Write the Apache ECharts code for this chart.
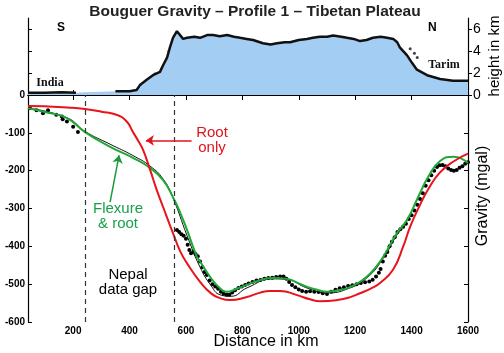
<!DOCTYPE html>
<html>
<head>
<meta charset="utf-8">
<script src="https://cdn.jsdelivr.net/npm/echarts@6/dist/echarts.min.js"></script>
<style>
  html, body { margin: 0; padding: 0; background: #fff; }
  #chart { width: 504px; height: 353px; }
</style>
</head>
<body>
<div id="chart"></div>
<script>
// topography profile (km along profile, height in km)
var topoKm = [40, 100, 160, 210, 240, 300, 350, 400, 425, 437, 462, 483, 508, 519, 533, 544, 554, 568, 590, 604, 630, 650, 675, 696, 720, 746, 770, 792, 815, 838, 873, 900, 923, 950, 969, 1000, 1029, 1050, 1075, 1100, 1122, 1150, 1171, 1195, 1217, 1240, 1263, 1290, 1313, 1335, 1349, 1359, 1384, 1402, 1419, 1455, 1501, 1547, 1600]
var topoH = [0.2, 0.2, 0.25, 0.2, 0.25, 0.3, 0.35, 0.35, 0.45, 0.9, 1.4, 1.8, 2.1, 2.7, 3.4, 4.4, 5.2, 5.8, 5.1, 5.2, 5.3, 5.2, 5.45, 5.45, 5.35, 5.45, 5.3, 5.2, 5.1, 5.0, 4.7, 4.6, 4.7, 4.8, 4.8, 5.0, 5.1, 5.2, 5.3, 5.3, 5.4, 5.3, 5.2, 5.1, 4.9, 5.0, 5.2, 5.3, 5.2, 5.1, 4.8, 4.3, 3.6, 2.9, 2.3, 1.8, 1.45, 1.3, 1.3]
var topoGap = [214, 348]
var topoOutKm = [440, 455, 470, 490, 500, 515, 540, 548, 579, 586, 600, 620, 700, 760, 1395, 1410, 1420]
var topoOutH = [0.7, 1.0, 1.5, 1.9, 1.6, 2.4, 4.0, 4.3, 3.9, 4.2, 4.9, 5.0, 4.9, 4.8, 4.2, 3.8, 3.4]

// observed Bouguer gravity (mgal)
var obsKm = [47, 70, 93, 111, 140, 160, 163, 178, 200, 217,
  568, 576, 584, 592, 600, 606, 612, 618, 626, 634, 642, 650, 658, 666, 674, 684, 694, 704, 714, 724,
  734, 744, 754, 764, 774, 786, 798, 810, 822, 836, 850, 864, 878, 892, 906, 920, 934, 946, 956, 966,
  976, 988, 1000, 1012, 1026, 1040, 1055, 1070, 1085, 1100, 1115, 1130, 1145, 1160, 1175, 1190, 1205, 1220, 1235, 1250,
  1262, 1274, 1284, 1290, 1298, 1306, 1314, 1322, 1330, 1340, 1350, 1360, 1370, 1380, 1390, 1400, 1410, 1420, 1430, 1440,
  1450, 1460, 1470, 1480, 1490, 1500, 1510, 1520, 1530, 1540, 1550, 1560, 1570, 1580, 1590, 1600]
var obsG = [-35, -40, -48, -40, -52, -57, -64, -70, -84, -98,
  -357, -362, -368, -372, -380, -396, -410, -418, -414, -420, -426, -440, -455, -468, -476, -490, -500, -506, -512, -520,
  -525, -528, -528, -522, -516, -510, -506, -502, -498, -494, -490, -489, -486, -484, -483, -481, -480, -480, -486, -494,
  -502, -508, -514, -518, -520, -519, -520, -521, -524, -526, -520, -515, -511, -508, -505, -503, -500, -497, -495, -493,
  -488, -480, -470, -460, -440, -425, -415, -400, -388, -376, -362, -355, -348, -340, -328, -318, -305, -290, -275, -260,
  -240, -225, -212, -200, -190, -186, -185, -188, -194, -198, -200, -198, -192, -188, -182, -178]

// model: root only
var redKm = [40, 100, 180, 242, 300, 356, 390, 412, 430, 448, 473, 496, 519, 554, 579, 604, 650, 690, 721, 756, 816, 860, 898, 934, 994, 1040, 1075, 1136, 1180, 1217, 1260, 1288, 1334, 1370, 1395, 1430, 1460, 1500, 1550, 1600]
var redG = [-29, -30, -33, -37, -44, -53, -70, -98, -120, -145, -198, -250, -296, -365, -412, -445, -494, -525, -537, -542, -534, -523, -518, -518, -529, -540, -545, -542, -535, -524, -510, -497, -462, -401, -348, -290, -248, -205, -175, -155]

// model: flexure & root
var greenKm = [40, 100, 178, 242, 331, 412, 473, 519, 554, 579, 604, 639, 650, 690, 721, 745, 780, 816, 860, 909, 958, 1000, 1029, 1065, 1100, 1135, 1171, 1210, 1242, 1270, 1299, 1348, 1384, 1420, 1460, 1500, 1550, 1600]
var greenG = [-35, -45, -61, -98, -137, -166, -193, -225, -270, -310, -357, -428, -440, -485, -511, -520, -512, -502, -490, -484, -486, -498, -507, -515, -520, -517, -511, -497, -480, -458, -428, -365, -330, -275, -215, -175, -163, -180]

// thin black model curve
var blackKm = [40, 178, 242, 331, 412, 473, 519, 554, 604, 650, 690, 721, 760, 816, 909, 958, 1029, 1100, 1171, 1242, 1299, 1348, 1384]
var blackG = [-35, -60, -96, -130, -160, -188, -222, -272, -372, -455, -505, -528, -532, -510, -486, -488, -510, -523, -513, -483, -432, -370, -333]

var gapLines = [242, 557]
var xTicks = [200, 400, 600, 800, 1000, 1200, 1400, 1600]
var hTicks = [0, 2, 4, 6]

function zip(a, b) {
  return a.map(function (v, i) { return [v, b[i]] })
}

var topoDots = topoKm.map(function (k, i) {
  return [k, (k > topoGap[0] && k < topoGap[1]) ? null : topoH[i]]
})

var chart = echarts.init(document.getElementById('chart'))
var boldLabel = { fontFamily: 'Liberation Sans, Arial', fontWeight: 'bold', fontSize: 10, color: '#000',
  formatter: function (v) { return String(v) } }
var axLine = { show: true, lineStyle: { color: '#000', width: 1.2 } }

chart.setOption({
  animation: false,
  backgroundColor: '#fff',
  title: {
    text: 'Bouguer Gravity \u2013 Profile 1 \u2013 Tibetan Plateau',
    left: 250, top: -1, textAlign: 'center',
    textStyle: { fontFamily: 'Liberation Sans, Arial', fontWeight: 'bold', fontSize: 15.5, color: '#222' }
  },
  grid: [
    { left: 28, right: 36, top: 18, height: 77 },
    { left: 28, right: 36, top: 95, height: 227 }
  ],
  xAxis: [
    { gridIndex: 0, type: 'value', min: 40, max: 1600, position: 'bottom', axisLine: axLine,
      axisTick: { inside: true, length: 5, customValues: xTicks, lineStyle: { color: '#000' } },
      axisLabel: { show: false }, splitLine: { show: false } },
    { gridIndex: 0, type: 'value', min: 40, max: 1600, position: 'top', axisLine: axLine,
      axisTick: { inside: true, length: 5, customValues: xTicks, lineStyle: { color: '#000' } },
      axisLabel: { show: false }, splitLine: { show: false } },
    { gridIndex: 1, type: 'value', min: 40, max: 1600, position: 'bottom', axisLine: axLine,
      axisTick: { inside: true, length: 5, customValues: xTicks, lineStyle: { color: '#000' } },
      axisLabel: Object.assign({ customValues: xTicks, margin: 4 }, boldLabel),
      splitLine: { show: false } }
  ],
  yAxis: [
    { gridIndex: 0, type: 'value', min: 0, max: 7, position: 'left', axisLine: axLine,
      axisTick: { inside: true, length: 4, customValues: hTicks, lineStyle: { color: '#000' } },
      axisLabel: { show: false }, splitLine: { show: false } },
    { gridIndex: 0, type: 'value', min: 0, max: 7, position: 'right', axisLine: axLine,
      axisTick: { inside: false, length: 4, customValues: hTicks, lineStyle: { color: '#000' } },
      axisLabel: { customValues: hTicks, margin: 5, fontFamily: 'Liberation Sans, Arial', fontSize: 14, color: '#000' },
      splitLine: { show: false } },
    { gridIndex: 1, type: 'value', min: -600, max: 0, interval: 100, position: 'left', axisLine: axLine,
      axisTick: { inside: true, length: 4, lineStyle: { color: '#000' } },
      axisLabel: Object.assign({ margin: 3 }, boldLabel), splitLine: { show: false } },
    { gridIndex: 1, type: 'value', min: -600, max: 0, interval: 100, position: 'right', axisLine: axLine,
      axisTick: { inside: true, length: 4, lineStyle: { color: '#000' } },
      axisLabel: { show: false }, splitLine: { show: false } }
  ],
  series: [
    { name: 'topo fill', type: 'line', xAxisIndex: 0, yAxisIndex: 0, data: zip(topoKm, topoH),
      symbol: 'none', lineStyle: { width: 0 }, areaStyle: { color: '#a3cdf3', opacity: 1 } },
    { name: 'topo', type: 'line', xAxisIndex: 0, yAxisIndex: 0, data: topoDots,
      symbol: 'none', connectNulls: false, lineStyle: { color: '#111', width: 2.5 } },
    { name: 'topo pts', type: 'scatter', xAxisIndex: 0, yAxisIndex: 0, data: zip(topoOutKm, topoOutH),
      symbolSize: 3, itemStyle: { color: '#111' } },
    { name: 'observed', type: 'scatter', xAxisIndex: 2, yAxisIndex: 2, data: zip(obsKm, obsG),
      symbolSize: 4, itemStyle: { color: '#000', opacity: 1 },
      markLine: {
        silent: true, symbol: 'none', label: { show: false },
        lineStyle: { color: '#333', type: [5, 4], width: 1.2 },
        data: gapLines.map(function (k) { return { xAxis: k } })
      } },
    { name: 'model', type: 'line', xAxisIndex: 2, yAxisIndex: 2, data: zip(blackKm, blackG),
      smooth: true, symbol: 'none', lineStyle: { color: '#111', width: 1 } },
    { name: 'Flexure & root', type: 'line', xAxisIndex: 2, yAxisIndex: 2, data: zip(greenKm, greenG),
      smooth: true, symbol: 'none', lineStyle: { color: '#1fa838', width: 2 },
      markLine: {
        silent: true, symbol: ['none', 'arrow'], symbolSize: 8, label: { show: false },
        lineStyle: { color: '#1a9a3a', width: 1.5, type: 'solid' },
        data: [[{ coord: [331, -283] }, { coord: [363, -159] }]]
      } },
    { name: 'Root only', type: 'line', xAxisIndex: 2, yAxisIndex: 2, data: zip(redKm, redG),
      smooth: true, symbol: 'none', lineStyle: { color: '#e8141c', width: 2 },
      markLine: {
        silent: true, symbol: ['none', 'arrow'], symbolSize: 8, label: { show: false },
        lineStyle: { color: '#e0141c', width: 1.5, type: 'solid' },
        data: [[{ coord: [620, -120] }, { coord: [458, -120] }]]
      } }
  ],
  graphic: [
    { type: 'text', left: 57, top: 22, style: { text: 'S', font: 'bold 12px Liberation Sans', fill: '#000' } },
    { type: 'text', left: 428, top: 22, style: { text: 'N', font: 'bold 12px Liberation Sans', fill: '#000' } },
    { type: 'text', x: 50, y: 83, style: { text: 'India', font: 'bold 12px Liberation Serif', fill: '#111', align: 'center', verticalAlign: 'middle' } },
    { type: 'text', x: 242, y: 64, style: { text: 'Tibetan  Plateau', font: 'bold 12px Liberation Serif', fill: '#111', align: 'center', verticalAlign: 'middle' } },
    { type: 'text', x: 444, y: 65, style: { text: 'Tarim', font: 'bold 12px Liberation Serif', fill: '#111', align: 'center', verticalAlign: 'middle' } },
    { type: 'text', x: 212, y: 140, style: { text: 'Root\nonly', font: '15px Liberation Sans', lineHeight: 15, fill: '#e0141c', align: 'center', verticalAlign: 'middle' } },
    { type: 'text', x: 118, y: 216, style: { text: 'Flexure\n& root', font: '15px Liberation Sans', lineHeight: 15, fill: '#16a04a', align: 'center', verticalAlign: 'middle' } },
    { type: 'text', x: 128, y: 282, style: { text: 'Nepal\ndata gap', font: '15px Liberation Sans', lineHeight: 15, fill: '#000', align: 'center', verticalAlign: 'middle' } },
    { type: 'text', x: 266, y: 342, style: { text: 'Distance in km', font: '16px Liberation Sans', fill: '#000', align: 'center', verticalAlign: 'middle' } },
    { type: 'text', x: 483, y: 196, rotation: Math.PI / 2, style: { text: 'Gravity (mgal)', font: '16px Liberation Sans', fill: '#000', align: 'center', verticalAlign: 'middle' } },
    { type: 'text', x: 495, y: 56, rotation: Math.PI / 2, style: { text: 'height in km', font: '15px Liberation Sans', fill: '#000', align: 'center', verticalAlign: 'middle' } }
  ]
})
</script>
</body>
</html>
